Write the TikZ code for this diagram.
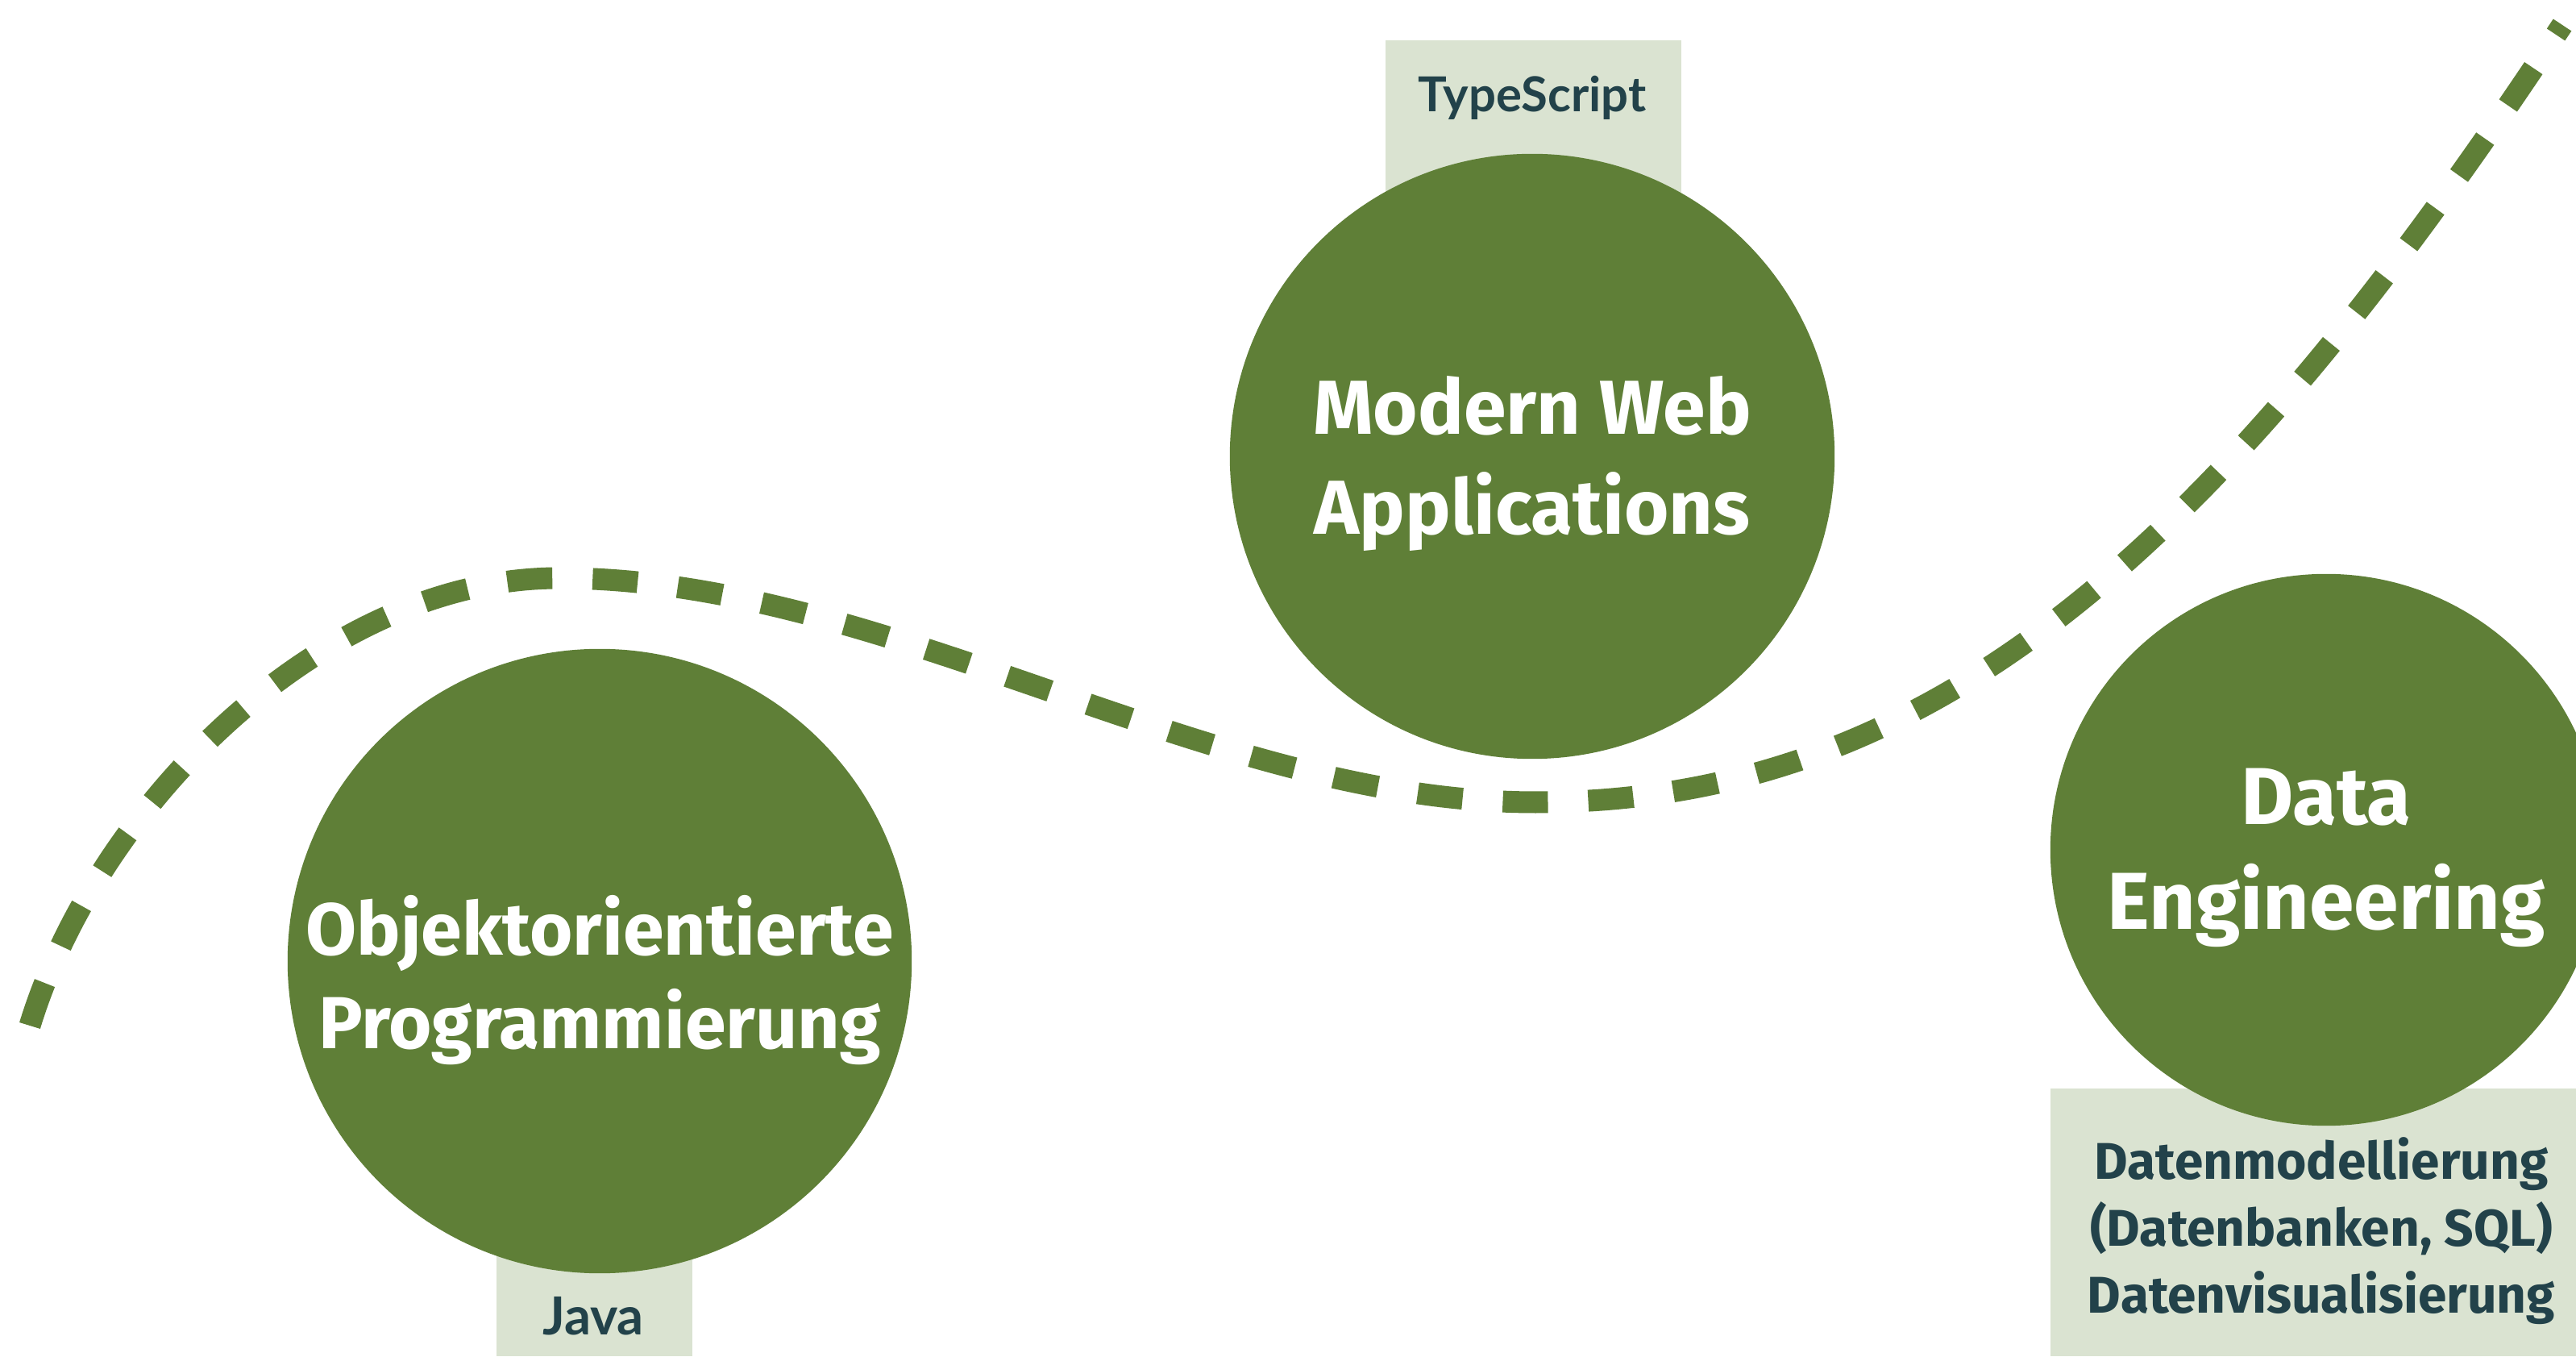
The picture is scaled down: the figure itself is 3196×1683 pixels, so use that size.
\documentclass[tikz,border=0pt]{standalone}
\usepackage{fontspec}
\setmainfont{Fira Sans}
\newfontfamily\labelfont{Lato}
\definecolor{leaf}{HTML}{5F7F37}
\definecolor{pale}{HTML}{DAE3D1}
\definecolor{ink}{HTML}{22424A}
\begin{document}
\begin{tikzpicture}[x=0.01cm,y=-0.01cm,
  bubble/.style={circle, fill=leaf, inner sep=0pt},
  bubbletext/.style={text=white, font=\fontsize{27}{35}\selectfont\bfseries, align=center, inner sep=0pt},
  tagbox/.style={fill=pale, inner sep=0pt},
  tagtext/.style={text=ink, font=\labelfont\fontsize{17}{20}\selectfont\bfseries, align=center, inner sep=0pt},
  listtext/.style={text=ink, font=\fontsize{18.2}{23.6}\selectfont\bfseries, align=center, inner sep=0pt},
  pathline/.style={draw=leaf, line width=0.27cm, dash pattern=on 0.56cm off 0.5cm}]
\useasboundingbox (0,0) rectangle (3196,1683);
\clip (0,0) rectangle (3196,1683);
\fill[white] (0,0) rectangle (3196,1683);
% boxes behind circles
\node[tagbox, minimum width=3.67cm, minimum height=5.2cm, anchor=north west] (tsbox) at (1718,49) {};
\node[tagbox, minimum width=2.43cm, minimum height=3cm, anchor=south west] (javabox) at (615,1683) {};
\node[tagbox, minimum width=6.6cm, minimum height=3.32cm, anchor=south west] (databox) at (2543,1683) {};
% dashed path
\coordinate (s) at (37,1272);
\coordinate (peak) at (693,717);
\coordinate (low) at (1905,995);
\coordinate (e) at (3179,31);
\draw[pathline] (s) .. controls (120,1000) and (400,717) .. (peak)
  .. controls (1100,717) and (1500,995) .. (low)
  .. controls (2400,995) and (2750,680) .. (e);
% circles
\node[bubble, minimum size=7.74cm] (oop) at (744,1192) {};
\node[bubble, minimum size=7.5cm] (web) at (1901,566) {};
\node[bubble, minimum size=6.84cm] (data) at (2886,1054) {};
% texts
\node[bubbletext, font=\fontsize{26}{33}\selectfont\bfseries] (ooptext) at (744,1216) {Objektorientierte\\Programmierung};
\node[bubbletext] (webtext) at (1901,575) {Modern Web\\Applications};
\node[bubbletext, font=\fontsize{28.5}{37}\selectfont\bfseries] (datatext) at (2886,1064) {Data\\Engineering};
\node[tagtext] (ts) at (1901,121) {TypeScript};
\node[tagtext, font=\labelfont\fontsize{18.5}{20}\selectfont\bfseries] (java) at (736,1632) {Java};
\node[listtext] (list) at (2880,1527) {Datenmodellierung\\(Datenbanken, SQL)\\Datenvisualisierung};
\end{tikzpicture}
\end{document}
